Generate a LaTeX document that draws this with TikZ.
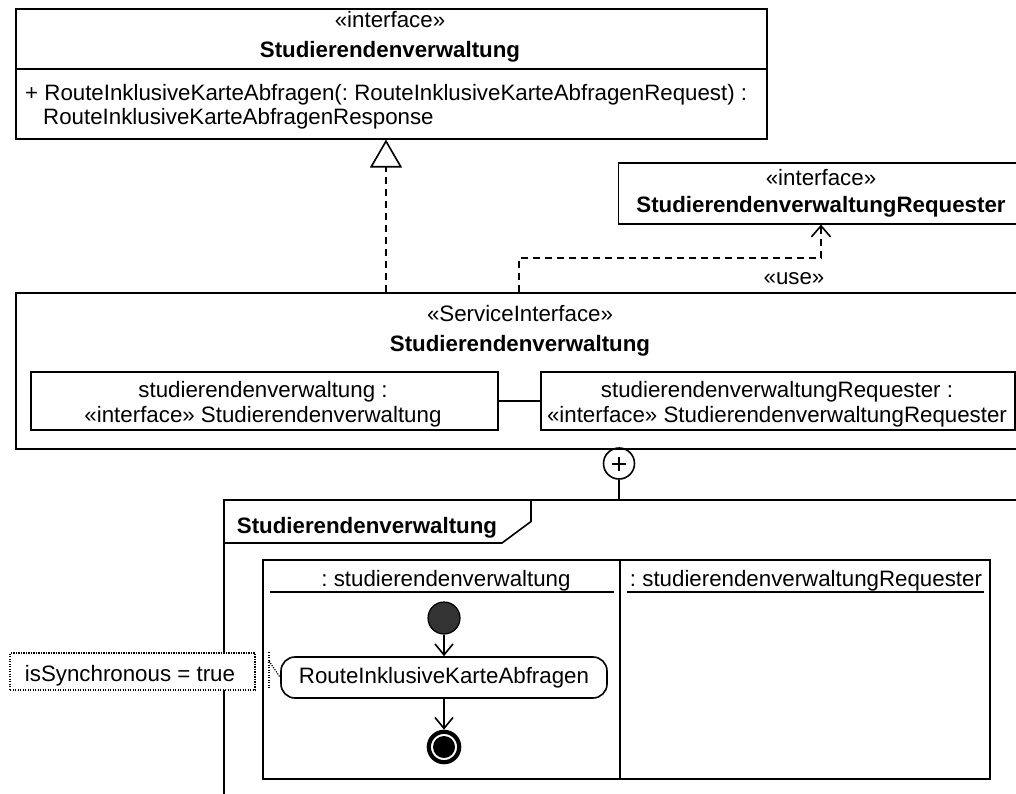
\documentclass[tikz,border=0pt]{standalone}
\usepackage{fontspec}
\setmainfont{Liberation Sans}
\usetikzlibrary{arrows.meta}
\frenchspacing
\begin{document}
\begin{tikzpicture}[x=1pt,y=-1pt,
  ln/.style={line width=1.6pt},
  umlbox/.style={draw, line width=1.6pt, rectangle, inner sep=0pt, anchor=north west},
  txt/.style={inner sep=0pt, anchor=base, font=\fontsize{22.3}{26}\selectfont},
  btxt/.style={inner sep=0pt, anchor=base, font=\fontsize{22.3}{26}\selectfont\bfseries},
  dsh/.style={line width=1.6pt, dash pattern=on 7pt off 5pt},
  dotl/.style={line width=1.2pt, dash pattern=on 1.2pt off 1.3pt},
  barb/.style={-{Straight Barb[length=11pt,width=18pt]}},
]
\clip (0,0) rectangle (1016,794);
\fill[white] (0,0) rectangle (1016,794);

% top interface
\node[umlbox, minimum width=751pt, minimum height=129.5pt] (iface) at (15,8.5) {};
\draw[ln] (iface.west |- 0,69) -- (iface.east |- 0,69);
\node[txt] (ifst) at (390,28) {«interface»};
\node[btxt] (ifnm) at (390,58) {Studierendenverwaltung};
\node[txt, anchor=base west] (op1) at (25,101) {+ RouteInklusiveKarteAbfragen(: RouteInklusiveKarteAbfragenRequest) :};
\node[txt, anchor=base west] (op2) at (43,125) {RouteInklusiveKarteAbfragenResponse};

% requester interface
\node[umlbox, minimum width=412pt, minimum height=61pt] (req) at (617.5,162) {};
\node[txt] (reqst) at (821,186) {«interface»};
\node[btxt] (reqnm) at (821,213) {StudierendenverwaltungRequester};

% service interface
\node[umlbox, minimum width=1015pt, minimum height=156pt] (svc) at (15,292) {};
\node[txt] (svcst) at (520,321) {«ServiceInterface»};
\node[btxt] (svcnm) at (520,351) {Studierendenverwaltung};
\node[umlbox, minimum width=467pt, minimum height=58pt] (p1) at (30,371) {};
\node[txt] (p1a) at (263,397) {studierendenverwaltung :};
\node[txt] (p1b) at (263,422) {«interface» Studierendenverwaltung};
\node[umlbox, minimum width=474pt, minimum height=58pt] (p2) at (540,371) {};
\node[txt] (p2a) at (777,397) {studierendenverwaltungRequester :};
\node[txt] (p2b) at (777,422) {«interface» StudierendenverwaltungRequester};
\draw[ln] (p1.east) -- (p2.west);

% realization
\coordinate (rx) at (386,0);
\draw[dsh, -{Triangle[open, length=28pt, width=32pt]}] (svc.north -| rx) -- (iface.south -| rx);

% use dependency
\coordinate (ux) at (519,0);
\coordinate (ut) at (821,0);
\coordinate (uy) at (0,258);
\draw[dsh, -{Straight Barb[length=11pt,width=19pt]}] (svc.north -| ux) |- (ut |- uy) -- (req.south -| ut);
\node[txt] (use) at (794,284) {«use»};

% nesting (plus) connector
\node[draw, circle, line width=1.6pt, minimum size=31pt, inner sep=0pt] (plus) at (619,463.5) {};
\draw[line width=2pt] ([xshift=-7pt]plus.center) -- ([xshift=7pt]plus.center);
\draw[line width=2pt] ([yshift=-7pt]plus.center) -- ([yshift=7pt]plus.center);
\coordinate (frtl) at (224,500);
\draw[ln] (1030,500) -- (frtl) -- (224,800);
\draw[ln] (plus.south) -- (plus.south |- frtl);

% frame tab
\draw[ln] (224,543) -- (502,543) -- (531,521.5) -- (531,500);
\node[btxt] (frname) at (367,533) {Studierendenverwaltung};

% partitions
\draw[ln] (263,560) rectangle (990,779);
\draw[ln] (620,560) -- (620,779);
\node[txt] (h1) at (446,586.5) {: studierendenverwaltung};
\draw[line width=2pt] (270,592) -- (614,592);
\node[txt] (h2) at (806,586.5) {: studierendenverwaltungRequester};
\draw[line width=2pt] (627,592) -- (984,592);

% activity
\node[circle, draw, line width=1.2pt, fill=black!80, minimum size=32pt, inner sep=0pt] (init) at (444,618) {};
\node[draw, line width=1.6pt, rounded corners=14pt, minimum width=326pt, minimum height=41pt, inner sep=0pt, font=\fontsize{22.3}{26}\selectfont] (act) at (444,677.5) {RouteInklusiveKarteAbfragen};
\node[circle, draw, line width=4.2pt, fill=white, minimum size=30.4pt, inner sep=0pt] (fin) at (444,747) {};
\fill[black] (fin.center) circle[radius=11pt];
\draw[ln, barb] (init) -- (act);
\draw[ln, barb] (act) -- (fin);

% note
\node[draw, dotl, fill=white, minimum width=245pt, minimum height=37pt, inner sep=0pt] (note) at (132.5,671.5) {};
\node[txt] (notetxt) at (130,681) {isSynchronous = true};
\coordinate (na) at (269,652);
\coordinate (nb) at (269,689);
\coordinate (nc) at (269,661);
\draw[dotl] (na) -- (nb);
\draw[dotl] (nc) -- (act.west);
\end{tikzpicture}
\end{document}
